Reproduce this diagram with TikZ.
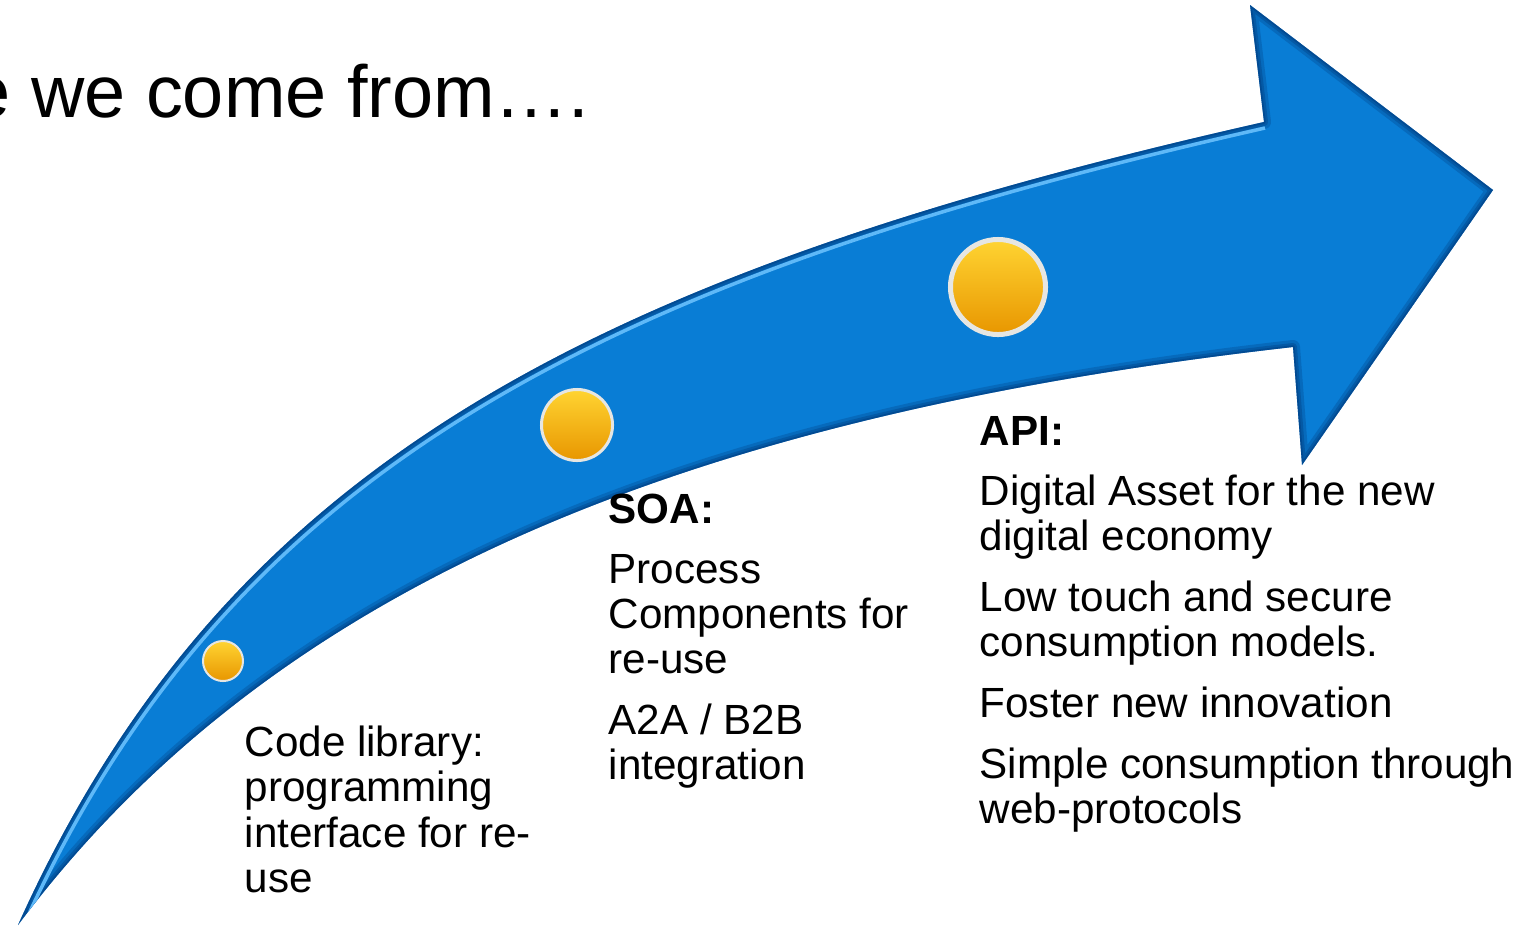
\documentclass[tikz,border=0pt]{standalone}
\usepackage{fontspec}
\setmainfont{Liberation Sans}
\usepackage{tikz}

\definecolor{arrowblue}{RGB}{9,125,213}
\definecolor{arrowdark}{RGB}{0,50,115}
\definecolor{arrowlight}{RGB}{95,185,248}
\definecolor{gold}{RGB}{255,186,5}
\definecolor{goldlight}{RGB}{255,212,50}
\definecolor{golddark}{RGB}{232,150,0}
\definecolor{beadrim}{RGB}{230,230,226}

\tikzset{
  heading/.style={font=\fontsize{21}{25}\selectfont, inner sep=0, anchor=base east},
  label head/.style={font=\bfseries\fontsize{12}{12.8}\selectfont, inner sep=0, anchor=base west},
  label body/.style={font=\fontsize{12}{12.8}\selectfont, align=left, inner sep=0, anchor=base west},
  bead/.style={circle, inner sep=0, draw=beadrim, top color=goldlight, middle color=gold, bottom color=golddark}
}

% outline of the curved arrow, in pixels of the reference
\def\arrowoutline{(18,925) .. controls (223,470) and (582,276) .. (1264,122)
  -- (1250,5) -- (1493,190) -- (1302,465)
  -- (1293,347) .. controls (647,420) and (258,605) .. cycle}

\begin{document}
\begin{tikzpicture}[x=0.01cm, y=-0.01cm]
		\useasboundingbox (0,0) rectangle (1525,927);

		% title, cut at the left border
		\node[heading] (title) at (590,117) {Where we come from….};

		% the arrow with its bevelled rim
		\fill[arrowblue] \arrowoutline;
		\begin{scope}
			\clip \arrowoutline;
			\draw[arrowdark, opacity=0.25, line width=1.4mm, line join=round] \arrowoutline;
			\draw[arrowdark, opacity=0.3, line width=0.8mm, line join=round] \arrowoutline;
			\draw[arrowdark, opacity=0.35, line width=0.35mm, line join=round] \arrowoutline;
			\draw[arrowlight, line width=0.35mm, shift={(3,6)}]
				(18,925) .. controls (223,470) and (582,276) .. (1262,122);
		\end{scope}

		% milestones on the arrow
		\node[bead, minimum size=0.40cm, line width=0.2mm] (libbead) at (223,661) {};
		\node[bead, minimum size=0.71cm, line width=0.3mm] (soabead) at (577,425) {};
		\node[bead, minimum size=0.95cm, line width=0.5mm] (apibead) at (998,287) {};

		% texts under the arrow (base = last line)
		\node[label body] (libtext) at (244,892) {Code library:\\programming\\interface for re-\\use};

		\node[label head] (soahead) at (608,523) {SOA:};
		\node[label body] (soatext) at (608,779) {Process\\Components for\\re-use\\[4.5pt]A2A / B2B\\integration};

		\node[label head] (apihead) at (979,445) {API:};
		\node[label body] (apitext) at (979,823) {Digital Asset for the new\\digital economy\\[4.5pt]Low touch and secure\\consumption models.\\[4.5pt]Foster new innovation\\[4.5pt]Simple consumption through\\web-protocols};
	\end{tikzpicture}
\end{document}
